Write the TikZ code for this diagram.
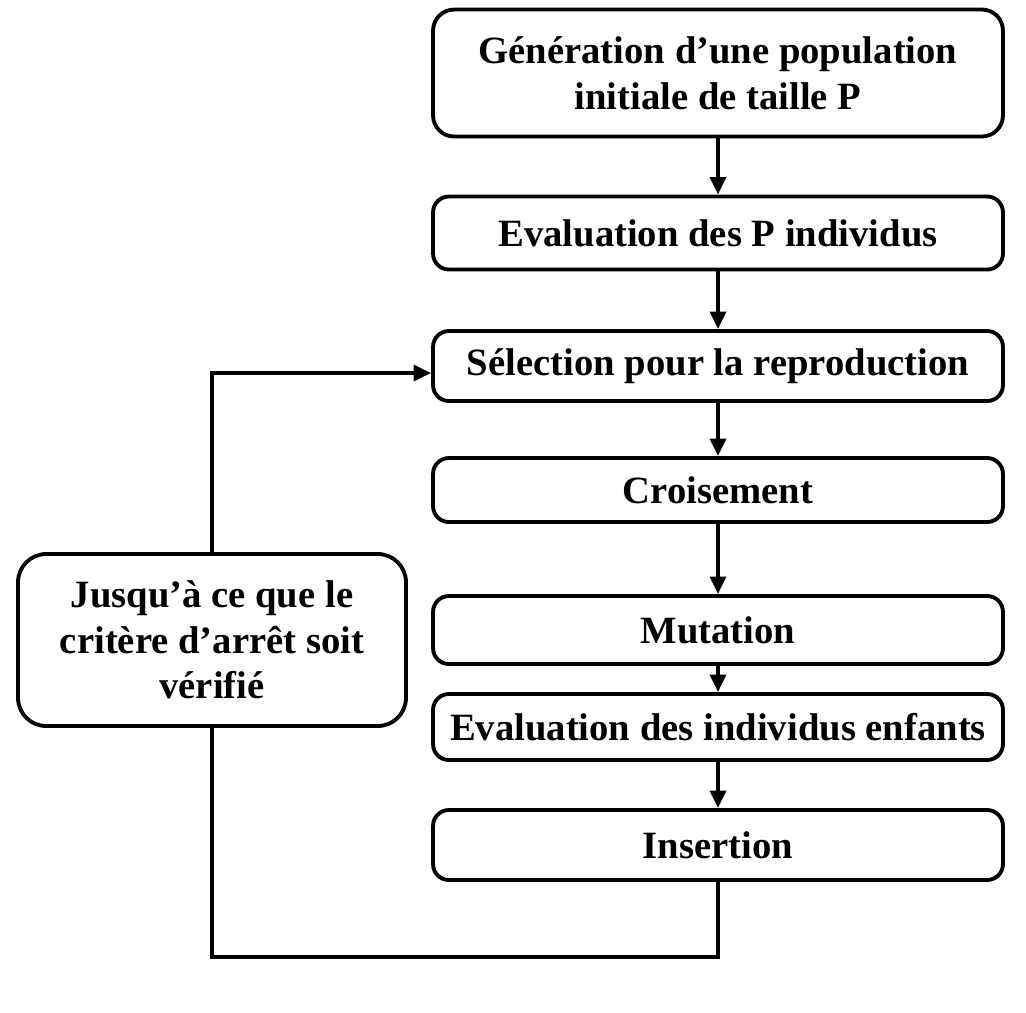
\documentclass[tikz,border=0pt]{standalone}
\usepackage{fontspec}
\setmainfont{Liberation Serif}
\usetikzlibrary{arrows.meta}

\tikzset{
	etape/.style={draw, line width=2.2pt, rounded corners=9pt, minimum width=11.4cm, align=center, font=\fontsize{22}{26}\selectfont\bfseries},
	fleche/.style={line width=2.2pt, -{Triangle[length=10pt, width=9pt]}},
	lien/.style={line width=2.2pt}
}

\begin{document}
\begin{tikzpicture}[x=0.02cm, y=-0.02cm]
	\useasboundingbox (0,0) rectangle (1026,1012);
	% colonne des etapes
	\node[etape, minimum height=2.54cm, rounded corners=12pt] (gen) at (718,73) {G\'en\'eration d'une population\\initiale de taille P};
	\node[etape, minimum height=1.46cm] (evalP) at (718,233) {Evaluation des P individus};
	\node[etape, minimum height=1.40cm] (sel) at (718,366) {S\'election pour la reproduction};
	\node[etape, minimum height=1.28cm] (crois) at (718,490) {Croisement};
	\node[etape, minimum height=1.36cm] (mut) at (718,630) {Mutation};
	\node[etape, minimum height=1.32cm] (evalE) at (718,727) {Evaluation des individus enfants};
	\node[etape, minimum height=1.40cm] (ins) at (718,845) {Insertion};
	% critere d'arret
	\node[etape, minimum width=7.76cm, minimum height=3.44cm, rounded corners=16pt] (crit) at (212,640) {Jusqu'\`a ce que le\\crit\`ere d'arr\^et soit\\v\'erifi\'e};
	\coordinate (bas) at (212,957);
	\coordinate (haut) at (212,373);
	% fleches
	\draw[fleche] (gen) -- (evalP);
	\draw[fleche] (evalP) -- (sel);
	\draw[fleche] (sel) -- (crois);
	\draw[fleche] (crois) -- (mut);
	\draw[fleche] (mut) -- (evalE);
	\draw[fleche] (evalE) -- (ins);
	\draw[lien] (ins.south) |- (bas) -- (crit.south);
	\draw[fleche] (crit.north) -- (haut) -- (haut -| sel.west);
\end{tikzpicture}
\end{document}
